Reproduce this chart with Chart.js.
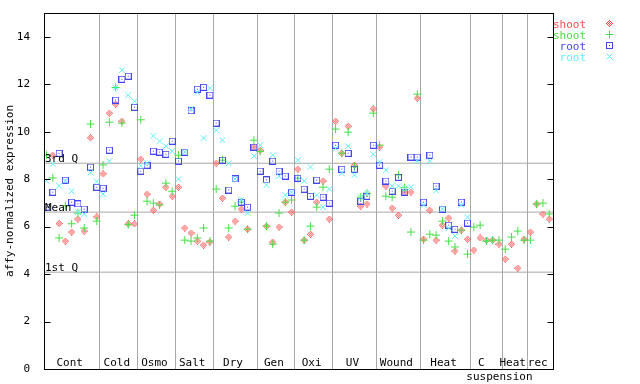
<!DOCTYPE html>
<html>
<head>
<meta charset="utf-8">
<script src="https://cdn.jsdelivr.net/npm/chart.js@4.4.0/dist/chart.umd.min.js"></script>
<style>
    html, body { margin: 0; padding: 0; background: #fff; }
    #wrap { width: 640px; height: 384px; }
</style>
</head>
<body>
<div id="wrap"><canvas id="chart" width="640" height="384"></canvas></div>
<script>
// Experiment groups and number of samples in each
const groupNames = ['Cont', 'Cold', 'Osmo', 'Salt', 'Dry', 'Gen', 'Oxi', 'UV', 'Wound', 'Heat', 'C suspension', 'Heat', 'rec'];
const groupSizes = [9, 6, 6, 6, 7, 6, 6, 7, 7, 8, 5, 4, 4];

// Expression per sample (index = sample position on x)
const shootRed = [
    null, 9.01, 6.13, 5.39, 5.77, 6.32, 5.81, 9.74, 6.41,
    8.22, 10.78, 11.16, 10.44, 6.12, 6.11,
    8.84, 7.37, 6.69, 6.95, 7.66, 7.28,
    7.66, 5.94, 5.73, 5.39, 5.22, 5.35,
    8.67, 7.20, 5.56, 6.23, 6.74, 5.89, 9.35,
    9.22, 6.02, 5.35, 5.98, 7.03, 6.61,
    8.42, 5.43, 5.68, 7.03, 7.92, 6.32,
    10.44, 9.09, 10.23, 8.59, 6.86, 6.95, 10.96,
    9.35, 7.71, 6.78, 6.48, 7.45, 7.45, 11.41,
    5.47, 6.69, 5.43, 6.06, 6.36, 4.97, 5.85, 5.47,
    5.01, 5.52, 5.43, 5.43, 5.26,
    4.63, 5.26, 4.25, 5.47,
    5.77, 6.95, 6.53, 6.32
];
const shootGreen = [
    9.01, 8.05, 5.52, 6.88, 6.12, 6.57, 5.94, 10.32, 6.23,
    8.60, 10.40, 11.86, 10.36, 6.08, 6.48,
    10.50, 7.07, 6.99, 6.91, 7.83, 7.49,
    9.01, 5.43, 5.39, 5.52, 5.94, 5.39,
    7.58, 8.80, 5.94, 6.86, 7.03, 5.89, 9.64,
    9.16, 6.02, 5.26, 6.57, 7.03, 7.12,
    8.04, 5.43, 6.02, 6.82, 7.66, 8.42,
    10.11, 9.09, 9.98, 8.52, 7.24, 7.41, 10.78,
    9.43, 7.28, 7.24, 8.18, 7.64, 5.77, 11.58,
    5.43, 5.68, 5.64, 6.23, 5.39, 5.14, 5.85, 4.84,
    5.98, 6.06, 5.39, 5.43, 5.43,
    5.05, 5.56, 5.81, 5.43,
    5.43, 6.95, 6.99, 6.53
];
const rootBlue = [
    6.82, 7.45, 9.09, 7.96, 7.03, 6.96, 6.74, 8.51, 7.66,
    7.62, 9.22, 11.33, 12.21, 12.34, 11.03,
    8.34, 8.59, 9.18, 9.14, 9.05, 9.60,
    8.76, 9.14, 10.88, 11.79, 11.87, 11.54,
    10.36, 8.80, 7.54, 8.01, 7.03, 6.82, 9.35,
    8.34, 7.97, 8.76, 8.34, 8.13, 7.45,
    8.04, 7.58, 7.28, 7.96, 7.24, 6.99,
    9.43, 8.42, 9.09, 8.42, 7.07, 7.28, 9.43,
    8.59, 7.92, 7.49, 8.08, 7.45, 8.93, 8.93,
    7.03, 9.01, 7.71, 6.74, 6.06, 5.89, 7.03, 6.15,
    null, null, null, null, null,
    null, null, null, null,
    null, null, null, null
];
const rootCyan = [
    7.93, 8.64, 7.72, 7.93, 7.49, 6.61, 6.53, 8.27, 7.90,
    7.37, 8.76, 11.86, 12.59, 11.54, 11.28,
    8.57, 8.67, 9.82, 9.60, 9.39, 9.18,
    8.00, 9.14, 10.96, 11.66, 9.73, 11.83,
    10.06, 9.64, 8.67, 8.01, 7.13, 6.57, 8.97,
    9.43, 7.75, 9.01, 8.13, 7.33, 7.45,
    8.80, 7.92, 8.51, 7.33, 6.82, 7.58,
    9.29, 8.25, 9.39, 8.17, 7.24, 7.41, 9.05,
    8.72, 8.38, 7.71, 7.71, 7.62, 7.66, 8.76,
    6.91, 8.76, 7.52, 6.74, 5.94, 5.60, 6.91, 6.40,
    null, null, null, null, null,
    null, null, null, null,
    null, null, null, null
];

// Reference lines
const quartileNames = ['3rd Q', 'Mean', '1st Q'];
const quartileValues = [8.67, 6.61, 4.08];

const yTicks = [0, 2, 4, 6, 8, 10, 12, 14];
const seriesNames = ['shoot', 'shoot', 'root', 'root'];

const FONT = 'DejaVu Sans Mono';
const RED = '#ff4d4d', GREEN = '#44e044', BLUE = '#4646f0', CYAN = '#5ff2f2';

// sample count, boundaries between groups
const nSamples = groupSizes.reduce((a, b) => a + b, 0);
const separators = [];
let acc = 0;
groupSizes.slice(0, -1).forEach(n => { acc += n; separators.push(acc - 0.5); });
const X_MIN = -0.4, X_MAX = nSamples - 0.4;

function toPoints(arr) {
    return arr.map((v, i) => v === null ? null : { x: i, y: v }).filter(p => p);
}

// little bitmap-ish markers
function makeDiamond(color) {
    const c = document.createElement('canvas');
    c.width = 7; c.height = 7;
    const g = c.getContext('2d');
    g.fillStyle = color;
    for (let dy = -3; dy <= 3; dy++) {
        for (let dx = -3; dx <= 3; dx++) {
            const d = Math.abs(dx) + Math.abs(dy);
            if (d === 3 || (d < 3 && Math.abs(dx + dy) % 2 === 1)) g.fillRect(3 + dx, 3 + dy, 1, 1);
        }
    }
    return c;
}
function makeSquare(color) {
    const c = document.createElement('canvas');
    c.width = 7; c.height = 7;
    const g = c.getContext('2d');
    g.strokeStyle = color;
    g.lineWidth = 1;
    g.strokeRect(0.5, 0.5, 6, 6);
    g.fillStyle = color;
    g.fillRect(3, 3, 1, 1);
    return c;
}

const diamondImg = makeDiamond(RED);
const squareImg = makeSquare(BLUE);

const markerStyles = [
    { pointStyle: diamondImg, radius: 3.5, borderWidth: 1, color: RED },
    { pointStyle: 'cross', radius: 4, borderWidth: 1, color: GREEN },
    { pointStyle: squareImg, radius: 3.5, borderWidth: 1, color: BLUE },
    { pointStyle: 'crossRot', radius: 4, borderWidth: 1, color: CYAN }
];

// Overlay: frame, inward ticks, labels, legend
const overlayPlugin = {
    id: 'overlay',
    afterDatasetsDraw(chart) {
        const { ctx, chartArea: a, scales: { x, y } } = chart;
        ctx.save();

        const line = (x1, y1, x2, y2) => {
            ctx.beginPath(); ctx.moveTo(x1, y1); ctx.lineTo(x2, y2); ctx.stroke();
        };

        ctx.strokeStyle = '#000';
        ctx.lineWidth = 1;
        const L = Math.round(a.left) + 0.5, R = Math.round(a.right) + 0.5;
        const T = Math.round(a.top) + 0.5, B = Math.round(a.bottom) + 0.5;
        ctx.strokeRect(L, T, R - L, B - T);

        yTicks.forEach(v => {
            const py = Math.round(y.getPixelForValue(v)) + 0.5;
            line(L, py, L + 6, py);
            line(R - 6, py, R, py);
        });

        ctx.font = '11px "' + FONT + '"';
        ctx.fillStyle = '#000';
        ctx.textAlign = 'left';
        ctx.textBaseline = 'alphabetic';
        quartileNames.forEach((name, i) => {
            const py = y.getPixelForValue(quartileValues[i]);
            ctx.fillText(name, a.left + 1, py - 1);
        });

        // group labels
        ctx.textAlign = 'center';
        let start = 0;
        groupSizes.forEach((n, i) => {
            const cx = (x.getPixelForValue(start - 0.5) + x.getPixelForValue(start + n - 0.5)) / 2 - 2;
            const words = groupNames[i].split(' ');
            if (words.length > 1) {
                ctx.fillText(words[0], cx - 3, a.bottom - 3);
                ctx.fillText(words[1], cx + 15, a.bottom + 11);
            } else {
                ctx.fillText(groupNames[i], cx, a.bottom - 3);
            }
            start += n;
        });

        // legend
        ctx.textAlign = 'right';
        markerStyles.forEach((m, i) => {
            const ly = 23.5 + i * 11;
            ctx.fillStyle = m.color;
            ctx.fillText(seriesNames[i], 586, ly + 4);
            ctx.strokeStyle = m.color;
            ctx.fillStyle = m.color;
            Chart.helpers.drawPoint(ctx, { pointStyle: m.pointStyle, radius: m.radius, borderWidth: 1, rotation: 0 }, 609.5, ly);
        });

        ctx.restore();
    }
};

const seriesData = [shootRed, shootGreen, rootBlue, rootCyan];

const datasets = seriesData.map((arr, i) => ({
    type: 'scatter',
    label: seriesNames[i],
    data: toPoints(arr),
    pointStyle: markerStyles[i].pointStyle,
    pointRadius: markerStyles[i].radius,
    pointBorderWidth: 1,
    borderColor: markerStyles[i].color,
    backgroundColor: markerStyles[i].color,
    order: 4 - i
}));

quartileValues.forEach(v => {
    datasets.push({
        type: 'line',
        data: [{ x: X_MIN, y: v }, { x: X_MAX, y: v }],
        borderColor: '#a8a8a8',
        borderWidth: 1,
        pointRadius: 0,
        order: 10
    });
});

new Chart(document.getElementById('chart'), {
    data: { datasets },
    options: {
        responsive: false,
        animation: false,
        layout: { padding: { top: 13, right: 87, left: 0, bottom: 0 } },
        plugins: {
            legend: { display: false },
            tooltip: { enabled: false }
        },
        scales: {
            x: {
                type: 'linear',
                min: X_MIN,
                max: X_MAX,
                afterBuildTicks: s => { s.ticks = separators.map(v => ({ value: v })); },
                grid: { color: '#a8a8a8', lineWidth: 1, drawTicks: false },
                border: { display: true, color: '#000' },
                ticks: { display: false },
                afterFit: s => { s.height = 15; }
            },
            y: {
                type: 'linear',
                min: 0,
                max: 15,
                afterBuildTicks: s => { s.ticks = yTicks.map(v => ({ value: v })); },
                grid: { display: false },
                border: { display: true, color: '#000' },
                ticks: { color: '#000', font: { family: FONT, size: 11 }, padding: 6 },
                title: {
                    display: true,
                    text: 'affy-normalized expression',
                    color: '#000',
                    font: { family: FONT, size: 11 },
                    padding: { top: 4, bottom: 0 }
                },
                afterFit: s => { s.width = 44; }
            }
        }
    },
    plugins: [overlayPlugin]
});
</script>
</body>
</html>
